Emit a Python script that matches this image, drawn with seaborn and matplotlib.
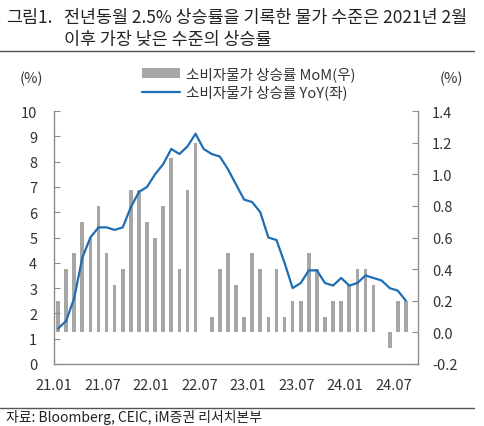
import matplotlib
matplotlib.use('Agg')
import matplotlib.pyplot as plt
import seaborn as sns
import pandas as pd
from matplotlib.lines import Line2D
from matplotlib.patches import Patch

# monthly data, 21.01 ~ 24.08
months = [f'{y}.{m:02d}' for y in (21, 22, 23, 24) for m in range(1, 13)][:44]
yoy = [1.4, 1.7, 2.6, 4.2, 5.0, 5.4, 5.4, 5.3, 5.4, 6.2, 6.8, 7.0,
       7.5, 7.9, 8.5, 8.3, 8.6, 9.1, 8.5, 8.3, 8.2, 7.7, 7.1, 6.5,
       6.4, 6.0, 5.0, 4.9, 4.0, 3.0, 3.2, 3.7, 3.7, 3.2, 3.1, 3.4,
       3.1, 3.2, 3.5, 3.4, 3.3, 3.0, 2.9, 2.5]
mom = [0.2, 0.4, 0.5, 0.7, 0.6, 0.8, 0.5, 0.3, 0.4, 0.9, 0.9, 0.7,
       0.6, 0.8, 1.1, 0.4, 0.9, 1.2, 0.0, 0.1, 0.4, 0.5, 0.3, 0.1,
       0.5, 0.4, 0.1, 0.4, 0.1, 0.2, 0.2, 0.5, 0.4, 0.1, 0.2, 0.2,
       0.3, 0.4, 0.4, 0.3, 0.0, -0.1, 0.2, 0.2]
tick_labels = ['21.01', '21.07', '22.01', '22.07', '23.01', '23.07', '24.01', '24.07']

df = pd.DataFrame({'month': months, 'idx': range(len(months)), 'yoy': yoy, 'mom': mom})

sns.set_style('white')
plt.rcParams['font.family'] = ['Noto Sans CJK KR', 'DejaVu Sans']

bar_color = '#A6A6A6'
line_color = '#1F6DB3'
axis_color = '#8C8C8C'
text_color = '#333333'

fig = plt.figure(figsize=(4.85, 4.27), dpi=100)
ax = fig.add_axes([0.1113, 0.1452, 0.7506, 0.5925])
ax2 = ax.twinx()

sns.barplot(data=df, x='idx', y='mom', ax=ax2, color=bar_color, width=0.45,
            native_scale=True, saturation=1, linewidth=0)
sns.lineplot(data=df, x='idx', y='yoy', ax=ax, color=line_color, linewidth=1.6)

ax.set_zorder(ax2.get_zorder() + 1)
ax.patch.set_visible(False)

ax.set_xlim(-0.5, 44.5)
ax.set_ylim(0, 10)
ax.set_yticks(range(0, 11))
ax2.set_ylim(-0.2, 1.4)
ax2.set_yticks([-0.2, 0.0, 0.2, 0.4, 0.6, 0.8, 1.0, 1.2, 1.4])
ax2.set_yticklabels([f'{v:.1f}' for v in [-0.2, 0.0, 0.2, 0.4, 0.6, 0.8, 1.0, 1.2, 1.4]])
ax.set_xticks([i - 0.5 for i in range(0, 44, 6)])
ax.set_xticklabels(tick_labels)

for a in (ax, ax2):
    a.set_xlabel('')
    a.set_ylabel('')
    for s in a.spines.values():
        s.set_color(axis_color)
        s.set_linewidth(1)
    a.spines['top'].set_visible(False)
ax.spines['right'].set_visible(False)
ax2.spines['left'].set_visible(False)
ax2.spines['bottom'].set_visible(False)

ax.tick_params(axis='y', direction='in', length=4, color=axis_color, labelsize=10.5,
               labelcolor=text_color, pad=12)
ax.tick_params(axis='x', direction='in', length=4, color=axis_color, labelsize=10.5,
               labelcolor=text_color, pad=10)
ax2.tick_params(axis='y', direction='in', length=4, color=axis_color, labelsize=10.5,
                labelcolor=text_color, pad=10)

fig.text(20 / 485, 1 - 79 / 427, '(%)', fontsize=10.5, color=text_color, va='center')
fig.text(440 / 485, 1 - 79 / 427, '(%)', fontsize=10.5, color=text_color, va='center')

handles = [Patch(facecolor=bar_color, edgecolor='none'),
           Line2D([0], [0], color=line_color, linewidth=1.6)]
labels = ['소비자물가 상승률 MoM(우)', '소비자물가 상승률 YoY(좌)']
fig.legend(handles, labels, loc='center', bbox_to_anchor=(249 / 485, 1 - 84 / 427),
           frameon=False, fontsize=10.5, handlelength=2.6, handletextpad=0.4,
           labelspacing=0.25, labelcolor=text_color)

# title and source
fig.text(6 / 485, 1 - 18 / 427, '그림1.', fontsize=12.5, color='#222222', va='center')
fig.text(64 / 485, 1 - 18 / 427, '전년동월 2.5% 상승률을 기록한 물가 수준은 2021년 2월',
         fontsize=12.5, color='#222222', va='center')
fig.text(64 / 485, 1 - 40 / 427, '이후 가장 낮은 수준의 상승률',
         fontsize=12.5, color='#222222', va='center')
fig.add_artist(Line2D([0, 474 / 485], [1 - 52 / 427] * 2, color='#555555', linewidth=1))
fig.add_artist(Line2D([0, 474 / 485], [1 - 409 / 427] * 2, color='#555555', linewidth=1))
fig.text(6 / 485, 1 - 418 / 427, '자료: Bloomberg, CEIC, iM증권 리서치본부',
         fontsize=10, color='#222222', va='center')

fig.savefig('out.png', dpi=100)
